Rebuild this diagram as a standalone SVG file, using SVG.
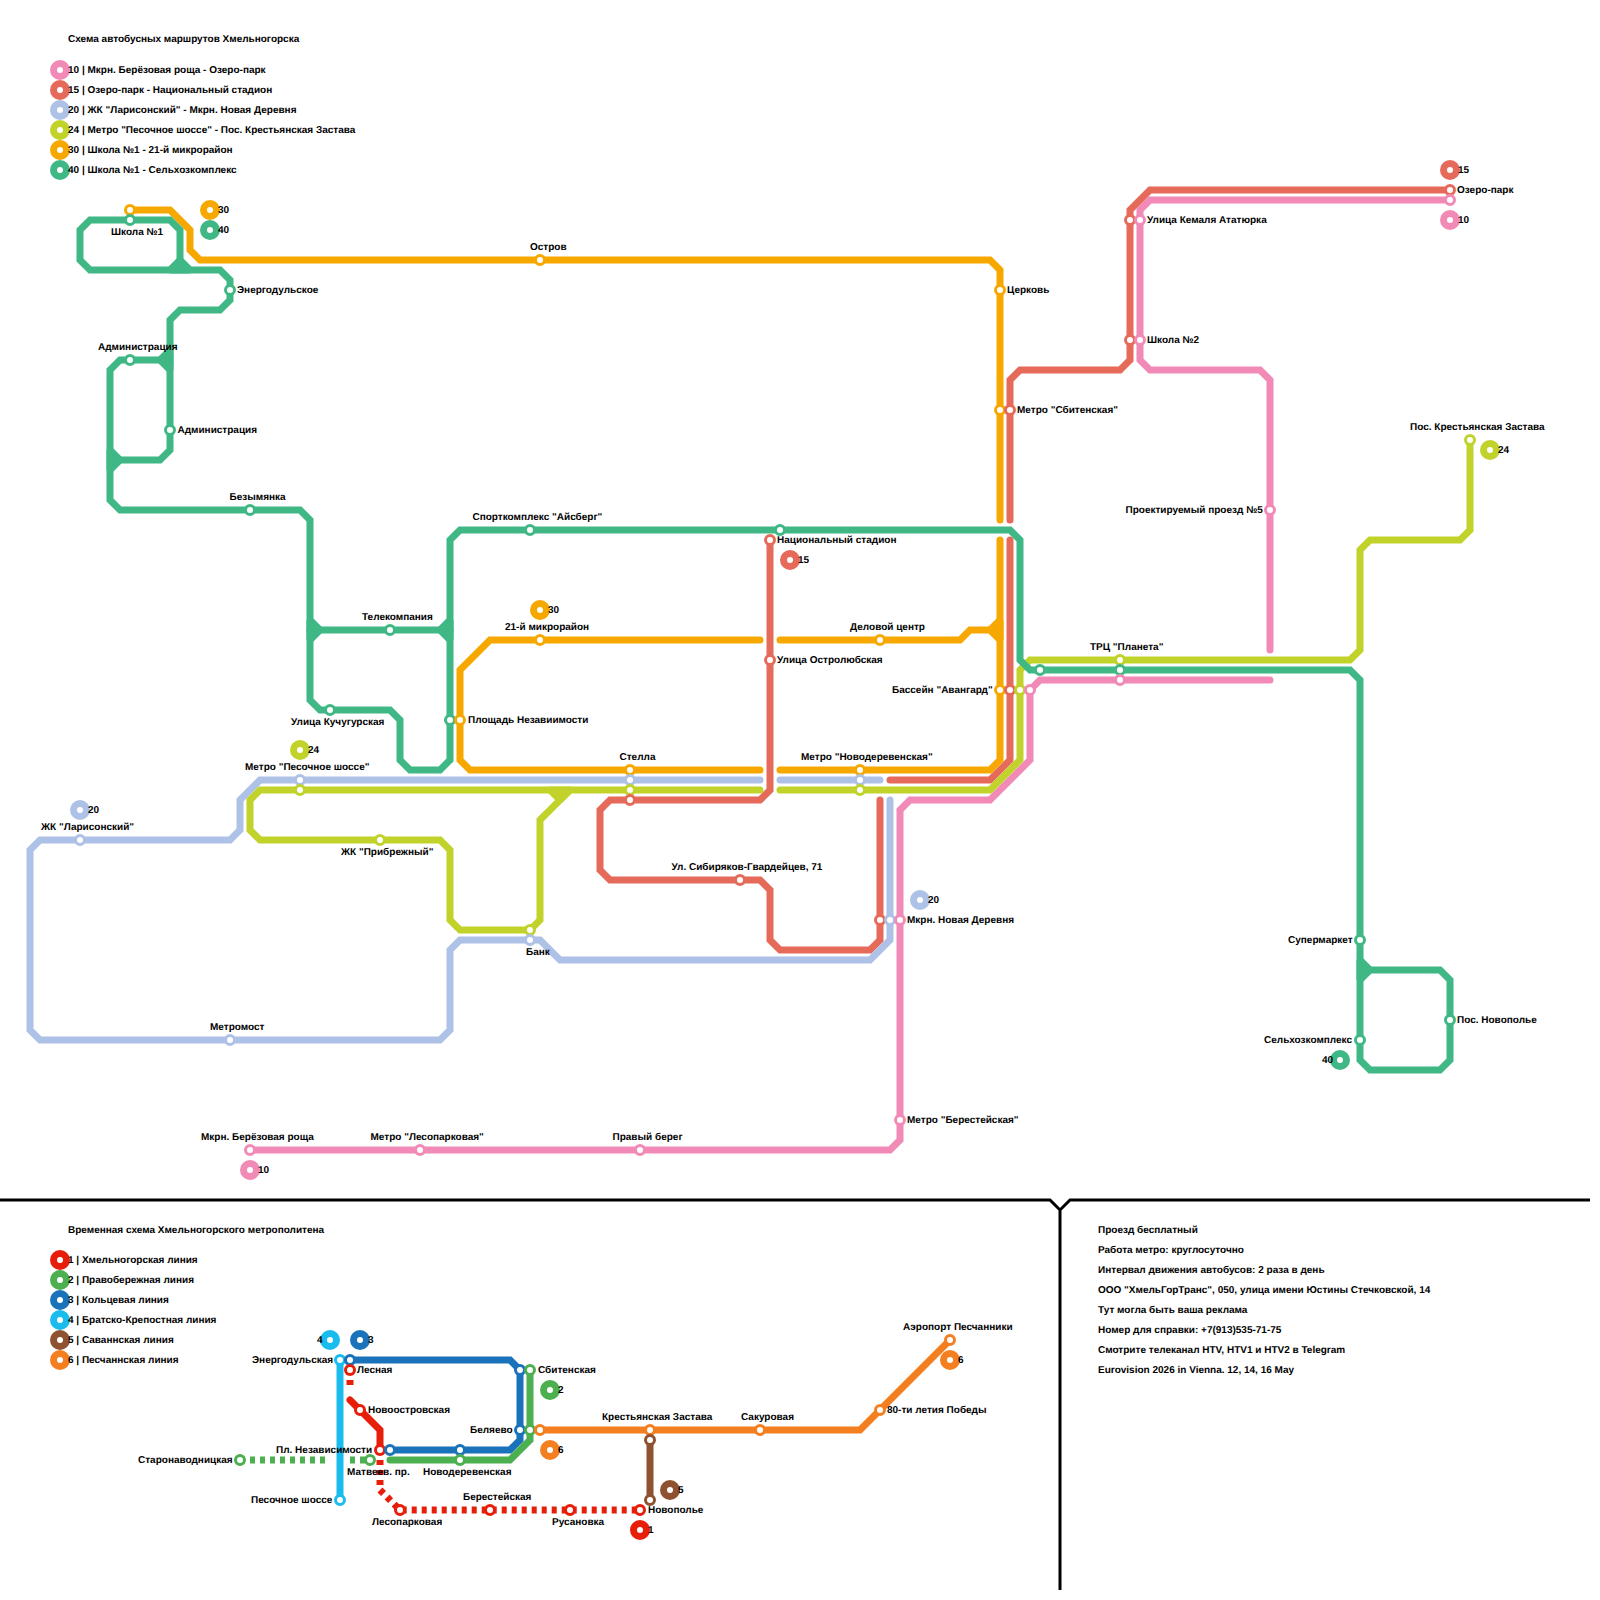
<svg xmlns="http://www.w3.org/2000/svg" width="1600" height="1600" viewBox="0 0 1600 1600">
<style>
text{font-family:"Liberation Sans",Arial,sans-serif;font-size:10px;font-weight:bold;fill:#000;text-rendering:geometricPrecision;transform:translateY(-.5px)}
.l{fill:none;stroke-width:7;stroke-linecap:round;stroke-linejoin:miter}
.d{stroke-linecap:butt;stroke-dasharray:5 5}
.s{fill:#fff;stroke-width:3}
.m{fill:#fff;stroke-width:7}
.j40,.j30,.j24{stroke-width:7;stroke-linejoin:bevel}
.j40{fill:#40b886;stroke:#40b886}.j30{fill:#f7a800;stroke:#f7a800}.j24{fill:#c1d32a;stroke:#c1d32a}
.p10{stroke:#f28ab8}.p15{stroke:#e66a5a}.p20{stroke:#aec1e6}.p24{stroke:#c1d32a}.p30{stroke:#f7a800}.p40{stroke:#40b886}
.m1{stroke:#e61e0a}.m2{stroke:#4cb050}.m3{stroke:#1a73ba}.m4{stroke:#1abcee}.m5{stroke:#8f5230}.m6{stroke:#f37f20}
</style>
<defs>
<circle id="st" r="4.5"/>
<circle id="dc" r="6.5"/>
</defs>
<g id="dividers" fill="none" stroke="#000" stroke-width="3"><path d="M0 1200H1050L1060 1210L1070 1200H1590M1060 1210V1590"/></g>
<g id="connectors">
<g id="bus-lines">
<path class="l p10" d="M250 1150H890L900 1140V810L910 800H990L1030 760V690L1040 680H1270"/>
<path class="l p10" d="M1270 650V380L1260 370H1150L1140 360V210L1150 200H1450"/>
<path class="l p15" d="M770 540V790L760 800H610L600 810V870L610 880H760L770 890V940L780 950H870L880 940V800"/>
<path class="l p15" d="M890 780H990L1010 760V540"/>
<path class="l p15" d="M1010 520V380L1020 370H1120L1130 360V210L1150 190H1450"/>
<path class="l p20" d="M760 780H260L240 800V830L230 840H40L30 850V1030L40 1040H440L450 1030V950L460 940H540L560 960H870L890 940V800"/>
<path class="l p20" d="M780 780H880"/>
<path class="l p24" d="M760 790H260L250 800V830L260 840H440L450 850V920L460 930H530L540 920V820L570 790"/>
<path class="j24" d="M550 790H570L560 800Z"/>
<path class="l p24" d="M780 790H990L1020 760V670L1030 660H1350L1360 650V550L1370 540H1460L1470 530V440"/>
<path class="l p30" d="M130 210H170L190 230V250L200 260H990L1000 270V520"/>
<path class="l p30" d="M780 770H990L1000 760V540"/>
<path class="l p30" d="M780 640H960L970 630H990"/>
<path class="j30" d="M990 630L1000 620V640Z"/>
<path class="l p30" d="M760 640H490L460 670V760L470 770H760"/>
<path class="l p40" d="M180 270V230L170 220H90L80 230V260L90 270H220L230 280V300L220 310H180L170 320V450L160 460H120"/>
<path class="j40" d="M170 270L180 260L190 270Z"/>
<path class="l p40" d="M170 360H120L110 370V500L120 510H300L310 520V700L320 710H390L400 720V760L410 770H440L450 760V540L460 530H1010L1020 540V660L1030 670H1350L1360 680V1060L1370 1070H1440L1450 1060V980L1440 970H1360"/>
<path class="j40" d="M160 360L170 350V370Z"/>
<path class="j40" d="M120 460L110 450V470Z"/>
<path class="l p40" d="M310 630H450"/>
<path class="j40" d="M320 630L310 620V640Z"/>
<path class="j40" d="M440 630L450 620V640Z"/>
<path class="j40" d="M1370 970L1360 960V980Z"/>
</g>
<g id="metro-lines">
<path class="l m4" d="M340 1360V1500"/>
<path class="l m3" d="M350 1360H510L520 1370V1440L510 1450H390"/>
<path class="l m2" d="M530 1370V1440L510 1460H390"/>
<path class="l d m2" d="M240 1460H330"/>
<path class="l d m2" d="M350 1460H370"/>
<path class="l d m1" d="M350 1370V1390"/>
<path class="l m1" d="M350 1400L380 1430V1450"/>
<path class="l d m1" d="M380 1450V1490L400 1510H640"/>
<path class="l m6" d="M540 1430H860L950 1340"/>
<path class="l m5" d="M650 1440V1500"/>
</g>
</g>
<g id="legend-bus">
<text x="68" y="42.500">Схема автобусных маршрутов Хмельногорска</text>
<use href="#dc" x="60" y="70" class="m p10"/><text x="68" y="73">10 | Мкрн. Берёзовая роща - Озеро-парк</text>
<use href="#dc" x="60" y="90" class="m p15"/><text x="68" y="93">15 | Озеро-парк - Национальный стадион</text>
<use href="#dc" x="60" y="110" class="m p20"/><text x="68" y="113">20 | ЖК "Ларисонский" - Мкрн. Новая Деревня</text>
<use href="#dc" x="60" y="130" class="m p24"/><text x="68" y="133">24 | Метро "Песочное шоссе" - Пос. Крестьянская Застава</text>
<use href="#dc" x="60" y="150" class="m p30"/><text x="68" y="153">30 | Школа №1 - 21-й микрорайон</text>
<use href="#dc" x="60" y="170" class="m p40"/><text x="68" y="173">40 | Школа №1 - Сельхозкомплекс</text>
</g>
<g id="legend-metro">
<text x="68" y="1233">Временная схема Хмельногорского метрополитена</text>
<use href="#dc" x="60" y="1260" class="m m1"/><text x="68" y="1263">1 | Хмельногорская линия</text>
<use href="#dc" x="60" y="1280" class="m m2"/><text x="68" y="1283">2 | Правобережная линия</text>
<use href="#dc" x="60" y="1300" class="m m3"/><text x="68" y="1303">3 | Кольцевая линия</text>
<use href="#dc" x="60" y="1320" class="m m4"/><text x="68" y="1323">4 | Братско-Крепостная линия</text>
<use href="#dc" x="60" y="1340" class="m m5"/><text x="68" y="1343">5 | Саваннская линия</text>
<use href="#dc" x="60" y="1360" class="m m6"/><text x="68" y="1363">6 | Песчаннская линия</text>
</g>
<g id="info">
<text x="1098" y="1233">Проезд бесплатный</text>
<text x="1098" y="1253">Работа метро: круглосуточно</text>
<text x="1098" y="1273">Интервал движения автобусов: 2 раза в день</text>
<text x="1098" y="1293">ООО "ХмельГорТранс", 050, улица имени Юстины Стечковской, 14</text>
<text x="1098" y="1313">Тут могла быть ваша реклама</text>
<text x="1098" y="1333">Номер для справки: +7(913)535-71-75</text>
<text x="1098" y="1353">Смотрите телеканал HTV, HTV1 и HTV2 в Telegram</text>
<text x="1098" y="1373">Eurovision 2026 in Vienna. 12, 14, 16 May</text>
</g>
<g id="route-markers">
<g id="r30a"><use href="#dc" x="210" y="210" class="m p30"/><text x="218" y="213">30</text></g>
<g id="r40a"><use href="#dc" x="210" y="230" class="m p40"/><text x="218" y="233">40</text></g>
<g id="r30b"><use href="#dc" x="540" y="610" class="m p30"/><text x="548" y="613">30</text></g>
<g id="r15a"><use href="#dc" x="790" y="560" class="m p15"/><text x="798" y="563">15</text></g>
<g id="r20a"><use href="#dc" x="920" y="900" class="m p20"/><text x="928" y="903">20</text></g>
<g id="r20b"><use href="#dc" x="80" y="810" class="m p20"/><text x="88" y="813">20</text></g>
<g id="r24a"><use href="#dc" x="300" y="750" class="m p24"/><text x="308" y="753">24</text></g>
<g id="r24b"><use href="#dc" x="1490" y="450" class="m p24"/><text x="1498" y="453">24</text></g>
<g id="r15b"><use href="#dc" x="1450" y="170" class="m p15"/><text x="1458" y="173">15</text></g>
<g id="r10a"><use href="#dc" x="1450" y="220" class="m p10"/><text x="1458" y="223">10</text></g>
<g id="r10b"><use href="#dc" x="250" y="1170" class="m p10"/><text x="258" y="1173">10</text></g>
<g id="r40b"><use href="#dc" x="1340" y="1060" class="m p40"/><text x="1322" y="1063">40</text></g>
<g id="m4n"><use href="#dc" x="330" y="1340" class="m m4"/><text x="317" y="1343">4</text></g>
<g id="m3n"><use href="#dc" x="360" y="1340" class="m m3"/><text x="368" y="1343">3</text></g>
<g id="m2n"><use href="#dc" x="550" y="1390" class="m m2"/><text x="558" y="1393">2</text></g>
<g id="m6a"><use href="#dc" x="550" y="1450" class="m m6"/><text x="558" y="1453">6</text></g>
<g id="m5n"><use href="#dc" x="670" y="1490" class="m m5"/><text x="678" y="1493">5</text></g>
<g id="m1n"><use href="#dc" x="640" y="1530" class="m m1"/><text x="648" y="1533">1</text></g>
<g id="m6b"><use href="#dc" x="950" y="1360" class="m m6"/><text x="958" y="1363">6</text></g>
</g>
<g id="stations">
<g id="s-shkola1"><use href="#st" x="130" y="210" class="s p30"/><use href="#st" x="130" y="220" class="s p40"/><text x="111" y="235">Школа №1</text></g>
<g id="s-energo"><use href="#st" x="230" y="290" class="s p40"/><text x="237" y="293">Энергодульское</text></g>
<g id="s-adm1"><use href="#st" x="130" y="360" class="s p40"/><text x="98" y="350">Администрация</text></g>
<g id="s-adm2"><use href="#st" x="170" y="430" class="s p40"/><text x="177.500" y="433">Администрация</text></g>
<g id="s-bezym"><use href="#st" x="250" y="510" class="s p40"/><text x="229.500" y="500">Безымянка</text></g>
<g id="s-tele"><use href="#st" x="390" y="630" class="s p40"/><text x="362" y="620">Телекомпания</text></g>
<g id="s-kuch"><use href="#st" x="330" y="710" class="s p40"/><text x="291" y="725">Улица Кучугурская</text></g>
<g id="s-pesoch"><use href="#st" x="300" y="780" class="s p20"/><use href="#st" x="300" y="790" class="s p24"/><text x="245" y="770">Метро "Песочное шоссе"</text></g>
<g id="s-laris"><use href="#st" x="80" y="840" class="s p20"/><text x="41" y="830">ЖК "Ларисонский"</text></g>
<g id="s-pribr"><use href="#st" x="380" y="840" class="s p24"/><text x="341" y="855">ЖК "Прибрежный"</text></g>
<g id="s-bank"><use href="#st" x="530" y="930" class="s p24"/><use href="#st" x="530" y="940" class="s p20"/><text x="526" y="955">Банк</text></g>
<g id="s-metromost"><use href="#st" x="230" y="1040" class="s p20"/><text x="210" y="1030">Метромост</text></g>
<g id="s-berez"><use href="#st" x="250" y="1150" class="s p10"/><text x="201" y="1140">Мкрн. Берёзовая роща</text></g>
<g id="s-lesop"><use href="#st" x="420" y="1150" class="s p10"/><text x="370.500" y="1140">Метро "Лесопарковая"</text></g>
<g id="s-pravy"><use href="#st" x="640" y="1150" class="s p10"/><text x="612.500" y="1140">Правый берег</text></g>
<g id="s-berest"><use href="#st" x="900" y="1120" class="s p10"/><text x="907" y="1123">Метро "Берестейская"</text></g>
<g id="s-novder"><use href="#st" x="880" y="920" class="s p15"/><use href="#st" x="890" y="920" class="s p20"/><use href="#st" x="900" y="920" class="s p10"/><text x="907" y="923">Мкрн. Новая Деревня</text></g>
<g id="s-sibir"><use href="#st" x="740" y="880" class="s p15"/><text x="671.500" y="870">Ул. Сибиряков-Гвардейцев, 71</text></g>
<g id="s-stella"><use href="#st" x="630" y="770" class="s p30"/><use href="#st" x="630" y="780" class="s p20"/><use href="#st" x="630" y="790" class="s p24"/><use href="#st" x="630" y="800" class="s p15"/><text x="619.500" y="760">Стелла</text></g>
<g id="s-novod"><use href="#st" x="860" y="770" class="s p30"/><use href="#st" x="860" y="780" class="s p20"/><use href="#st" x="860" y="790" class="s p24"/><text x="801" y="760">Метро "Новодеревенская"</text></g>
<g id="s-plosh"><use href="#st" x="450" y="720" class="s p40"/><use href="#st" x="460" y="720" class="s p30"/><text x="468" y="723">Площадь Незавиимости</text></g>
<g id="s-21"><use href="#st" x="540" y="640" class="s p30"/><text x="505" y="630">21-й микрорайон</text></g>
<g id="s-aisberg"><use href="#st" x="530" y="530" class="s p40"/><text x="472.500" y="520">Спорткомплекс "Айсберг"</text></g>
<g id="s-nacst"><use href="#st" x="780" y="530" class="s p40"/><use href="#st" x="770" y="540" class="s p15"/><text x="777" y="543">Национальный стадион</text></g>
<g id="s-ostrol"><use href="#st" x="770" y="660" class="s p15"/><text x="777" y="663">Улица Остролюбская</text></g>
<g id="s-delov"><use href="#st" x="880" y="640" class="s p30"/><text x="850" y="630">Деловой центр</text></g>
<g id="s-avang"><use href="#st" x="1000" y="690" class="s p30"/><use href="#st" x="1010" y="690" class="s p15"/><use href="#st" x="1020" y="690" class="s p24"/><use href="#st" x="1030" y="690" class="s p10"/><text x="892" y="693">Бассейн "Авангард"</text></g>
<g id="s-planeta"><use href="#st" x="1120" y="660" class="s p24"/><use href="#st" x="1120" y="670" class="s p40"/><use href="#st" x="1120" y="680" class="s p10"/><text x="1090" y="650">ТРЦ "Планета"</text></g>
<g id="s-green1040"><use href="#st" x="1040" y="670" class="s p40"/></g>
<g id="s-super"><use href="#st" x="1360" y="940" class="s p40"/><text x="1288" y="943">Супермаркет</text></g>
<g id="s-selhoz"><use href="#st" x="1360" y="1040" class="s p40"/><text x="1264" y="1043">Сельхозкомплекс</text></g>
<g id="s-novopol"><use href="#st" x="1450" y="1020" class="s p40"/><text x="1457" y="1023">Пос. Новополье</text></g>
<g id="s-ostrov"><use href="#st" x="540" y="260" class="s p30"/><text x="530" y="250">Остров</text></g>
<g id="s-cerkov"><use href="#st" x="1000" y="290" class="s p30"/><text x="1007" y="293">Церковь</text></g>
<g id="s-sbit"><use href="#st" x="1000" y="410" class="s p30"/><use href="#st" x="1010" y="410" class="s p15"/><text x="1017" y="413">Метро "Сбитенская"</text></g>
<g id="s-kemal"><use href="#st" x="1130" y="220" class="s p15"/><use href="#st" x="1140" y="220" class="s p10"/><text x="1147" y="223">Улица Кемаля Ататюрка</text></g>
<g id="s-shk2"><use href="#st" x="1130" y="340" class="s p15"/><use href="#st" x="1140" y="340" class="s p10"/><text x="1147" y="343">Школа №2</text></g>
<g id="s-proekt"><use href="#st" x="1270" y="510" class="s p10"/><text x="1125.500" y="513">Проектируемый проезд №5</text></g>
<g id="s-krest"><use href="#st" x="1470" y="440" class="s p24"/><text x="1410" y="430">Пос. Крестьянская Застава</text></g>
<g id="s-ozero"><use href="#st" x="1450" y="190" class="s p15"/><use href="#st" x="1450" y="200" class="s p10"/><text x="1457" y="193">Озеро-парк</text></g>
<g id="m-energ"><use href="#st" x="340" y="1360" class="s m4"/><use href="#st" x="350" y="1360" class="s m3"/><text x="252" y="1363">Энергодульская</text></g>
<g id="m-lesn"><use href="#st" x="350" y="1370" class="s m1"/><text x="357" y="1373">Лесная</text></g>
<g id="m-novoostr"><use href="#st" x="360" y="1410" class="s m1"/><text x="368" y="1413">Новоостровская</text></g>
<g id="m-plnez"><use href="#st" x="380" y="1450" class="s m1"/><use href="#st" x="390" y="1450" class="s m3"/><text x="276" y="1453">Пл. Независимости</text></g>
<g id="m-staro"><use href="#st" x="240" y="1460" class="s m2"/><text x="138" y="1463">Старонаводницкая</text></g>
<g id="m-matv"><use href="#st" x="370" y="1460" class="s m2"/><text x="347" y="1475">Матвеев. пр.</text></g>
<g id="m-novod"><use href="#st" x="460" y="1450" class="s m3"/><use href="#st" x="460" y="1460" class="s m2"/><text x="423" y="1475">Новодеревенская</text></g>
<g id="m-bel"><use href="#st" x="520" y="1430" class="s m3"/><use href="#st" x="530" y="1430" class="s m2"/><use href="#st" x="540" y="1430" class="s m6"/><text x="470" y="1433">Беляево</text></g>
<g id="m-sbit"><use href="#st" x="520" y="1370" class="s m3"/><use href="#st" x="530" y="1370" class="s m2"/><text x="538" y="1373">Сбитенская</text></g>
<g id="m-krest"><use href="#st" x="650" y="1430" class="s m6"/><use href="#st" x="650" y="1440" class="s m5"/><text x="602" y="1420">Крестьянская Застава</text></g>
<g id="m-sak"><use href="#st" x="760" y="1430" class="s m6"/><text x="741" y="1420">Сакуровая</text></g>
<g id="m-80"><use href="#st" x="880" y="1410" class="s m6"/><text x="887" y="1413">80-ти летия Победы</text></g>
<g id="m-aero"><use href="#st" x="950" y="1340" class="s m6"/><text x="903" y="1330">Аэропорт Песчанники</text></g>
<g id="m-pesoch"><use href="#st" x="340" y="1500" class="s m4"/><text x="251" y="1503">Песочное шоссе</text></g>
<g id="m-lesop"><use href="#st" x="400" y="1510" class="s m1"/><text x="372" y="1525">Лесопарковая</text></g>
<g id="m-berest"><use href="#st" x="490" y="1510" class="s m1"/><text x="463" y="1500">Берестейская</text></g>
<g id="m-rusan"><use href="#st" x="570" y="1510" class="s m1"/><text x="552" y="1525">Русановка</text></g>
<g id="m-novopol"><use href="#st" x="640" y="1510" class="s m1"/><use href="#st" x="650" y="1500" class="s m5"/><text x="648" y="1513">Новополье</text></g>
</g>
</svg>
